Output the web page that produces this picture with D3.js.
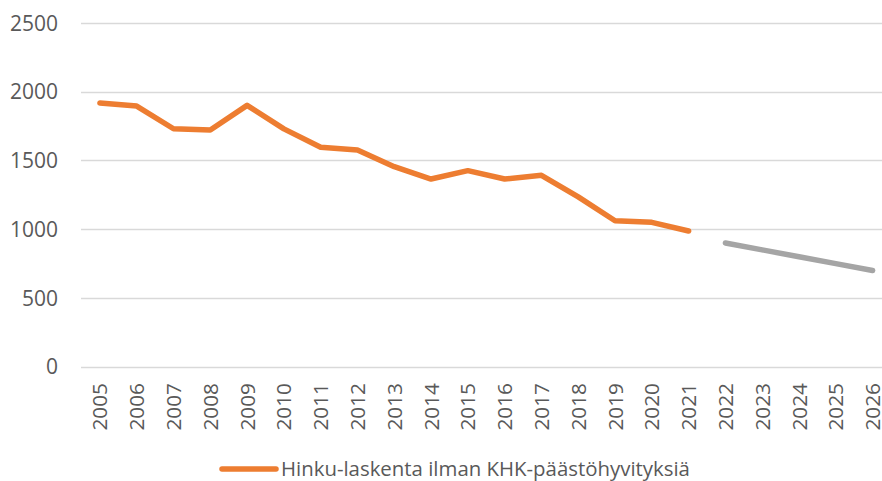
<!DOCTYPE html>
<html>
<head>
<meta charset="utf-8">
<script src="https://cdn.jsdelivr.net/npm/d3@7"></script>
<style>
  body { margin: 0; background: #fff; }
  text { font-family: "Open Sans", sans-serif; fill: #595959; }
</style>
</head>
<body>
<div id="chart"></div>
<script>
// data
const years = ["2005", "2006", "2007", "2008", "2009", "2010", "2011", "2012", "2013", "2014", "2015",
    "2016", "2017", "2018", "2019", "2020", "2021", "2022", "2023", "2024", "2025", "2026"];
const hinkuYears = years.slice(0, 17);
const hinkuValues = [1918, 1896, 1731, 1722, 1901, 1730, 1596, 1576, 1455, 1365, 1426,
    1365, 1392, 1235, 1062, 1050, 987];
const targetYears = ["2022", "2023", "2024", "2025", "2026"];
const targetValues = [900, 850, 800, 750, 700];
const yTicks = [0, 500, 1000, 1500, 2000, 2500];
const legendLabel = "Hinku-laskenta ilman KHK-päästöhyvityksiä";

const width = 882,
    height = 481;

const svg = d3.select('#chart').append('svg')
    .attr('width', width)
    .attr('height', height);

const x = d3.scaleBand()
    .domain(years)
    .range([81.5, 891]);

const y = d3.scaleLinear()
    .domain([0, 2500])
    .range([366.7, 23]);

// gridlines
svg.append('g')
    .selectAll('line')
    .data(yTicks)
    .enter().append('line')
    .attr('x1', 81)
    .attr('x2', width)
    .attr('y1', d => Math.round(y(d)) + 0.5)
    .attr('y2', d => Math.round(y(d)) + 0.5)
    .style('stroke', '#d9d9d9')
    .style('stroke-width', 1.3);

// y labels
svg.append('g')
    .selectAll('text')
    .data(yTicks)
    .enter().append('text')
    .attr('x', 58)
    .attr('y', d => y(d))
    .attr('dy', '0.36em')
    .style('text-anchor', 'end')
    .style('font-size', '21px')
    .text(d => d);

// x labels (rotated)
svg.append('g')
    .selectAll('text')
    .data(years)
    .enter().append('text')
    .attr('transform', d => 'translate(' + (x(d) + x.bandwidth() / 2) + ',383) rotate(-90)')
    .attr('dy', '0.36em')
    .style('text-anchor', 'end')
    .style('font-size', '20.8px')
    .text(d => d);

const line = d3.line()
    .x(d => x(d[0]) + x.bandwidth() / 2)
    .y(d => y(d[1]));

svg.append('path')
    .datum(d3.zip(hinkuYears, hinkuValues))
    .attr('d', line)
    .style('fill', 'none')
    .style('stroke', '#ED7D31')
    .style('stroke-width', 5.5)
    .style('stroke-linecap', 'round')
    .style('stroke-linejoin', 'round');

svg.append('path')
    .datum(d3.zip(targetYears, targetValues))
    .attr('d', line)
    .style('fill', 'none')
    .style('stroke', '#A5A5A5')
    .style('stroke-width', 5.5)
    .style('stroke-linecap', 'round')
    .style('stroke-linejoin', 'round');

// legend
const legend = svg.append('g').attr('transform', 'translate(222,469)');
legend.append('line')
    .attr('x1', 0)
    .attr('x2', 54)
    .style('stroke', '#ED7D31')
    .style('stroke-width', 5.5)
    .style('stroke-linecap', 'round');
legend.append('text')
    .attr('x', 59)
    .attr('dy', '0.36em')
    .style('font-size', '20.4px')
    .text(legendLabel);
</script>
</body>
</html>
